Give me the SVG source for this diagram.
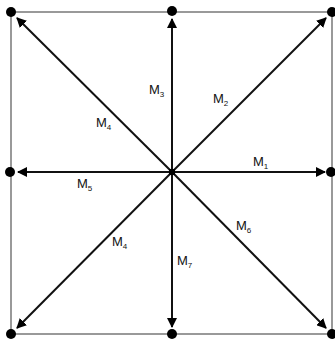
<svg xmlns="http://www.w3.org/2000/svg" width="335" height="341" viewBox="0 0 335 341">
<style>
.frame{fill:none;stroke:#999;stroke-width:2}
.arr{stroke:#111;stroke-width:2;marker-end:url(#ah)}
.dot{fill:#000}
text{font-family:"Liberation Sans",Arial,sans-serif;font-size:13px;fill:#111}
.sub{font-size:8px}
</style>
<defs>
<marker id="ah" viewBox="0 0 10 10" refX="9" refY="5" markerWidth="5" markerHeight="5" orient="auto" markerUnits="strokeWidth">
<path d="M0,0 L10,5 L0,10 z" fill="#000"/>
</marker>
</defs>
<rect class="frame" x="11" y="12" width="321" height="322"/>
<g id="connectors">
<line class="arr" x1="172" y1="172" x2="325" y2="172"/>
<line class="arr" x1="172" y1="172" x2="326" y2="18"/>
<line class="arr" x1="172" y1="172" x2="172" y2="19"/>
<line class="arr" x1="172" y1="172" x2="17" y2="18"/>
<line class="arr" x1="172" y1="172" x2="18" y2="172"/>
<line class="arr" x1="172" y1="172" x2="17" y2="328"/>
<line class="arr" x1="172" y1="172" x2="172" y2="327"/>
<line class="arr" x1="172" y1="172" x2="326" y2="328"/>
</g>
<g id="center"><rect x="169" y="169" width="6" height="6" fill="#000"/></g>
<g id="n-tl"><circle class="dot" cx="11" cy="12" r="5"/></g>
<g id="n-tm"><circle class="dot" cx="172" cy="11" r="5"/></g>
<g id="n-tr"><circle class="dot" cx="332" cy="12" r="5"/></g>
<g id="n-ml"><circle class="dot" cx="10" cy="172" r="5"/></g>
<g id="n-mr"><circle class="dot" cx="331" cy="172" r="5"/></g>
<g id="n-bl"><circle class="dot" cx="11" cy="334" r="5"/></g>
<g id="n-bm"><circle class="dot" cx="172" cy="334" r="5"/></g>
<g id="n-br"><circle class="dot" cx="332" cy="334" r="5"/></g>
<g id="labels">
<text x="149" y="94">M<tspan class="sub" dy="3">3</tspan></text>
<text x="213" y="103">M<tspan class="sub" dy="3">2</tspan></text>
<text x="96" y="127">M<tspan class="sub" dy="3">4</tspan></text>
<text x="253" y="166">M<tspan class="sub" dy="3">1</tspan></text>
<text x="77" y="188">M<tspan class="sub" dy="3">5</tspan></text>
<text x="236" y="230">M<tspan class="sub" dy="3">6</tspan></text>
<text x="112" y="246">M<tspan class="sub" dy="3">4</tspan></text>
<text x="177" y="265">M<tspan class="sub" dy="3">7</tspan></text>
</g>
</svg>
